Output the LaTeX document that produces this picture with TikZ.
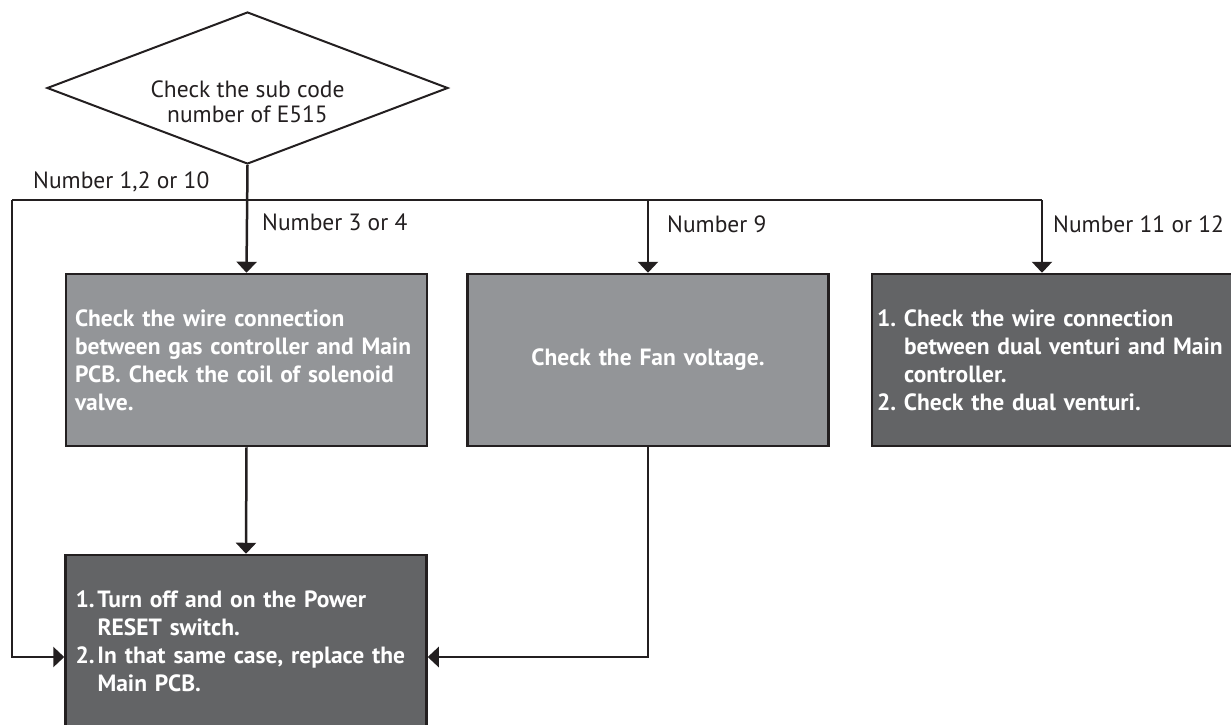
\documentclass[tikz,border=0pt]{standalone}
\usepackage{fontspec}
\setmainfont{PT Sans}
\usepackage{xcolor}
\usetikzlibrary{arrows.meta,positioning,shapes.geometric}
\definecolor{ink}{RGB}{35,31,32}
\definecolor{boxlight}{RGB}{147,149,152}
\definecolor{boxdark}{RGB}{99,100,102}
\newcommand{\num}[2]{\makebox[#1][l]{#2}}

\begin{document}
\begin{tikzpicture}[x=1pt, y=-1pt,
    dia/.style={draw=ink, diamond, line width=2pt, minimum width=401pt, minimum height=152pt, inner sep=0pt},
    lbl/.style={inner sep=0pt, text=ink, font=\fontsize{23.5}{25}\selectfont},
    box/.style={draw=ink, line width=2.5pt, minimum width=361pt, minimum height=172pt, inner sep=0pt, align=left, text=white, font=\fontsize{23.5}{28}\selectfont\bfseries},
    arr/.style={-{Triangle[width=20pt, length=11pt]}, line width=2.5pt, draw=ink},
    wire/.style={line width=2.5pt, draw=ink},
]
    \useasboundingbox (0,0) rectangle (1231,724);

    % Decision
    \node[dia] (dec) at (247.5,88) {};
    \node[lbl, align=center] (dectext) at (247.5,102) {Check the sub code\\number of E515};

    % Branch labels
    \node[lbl, anchor=base west] (n1) at (33,188) {Number 1,2 or 10};
    \node[lbl, anchor=base west] (n34) at (262,230) {Number 3 or 4};
    \node[lbl, anchor=base west] (n9) at (667,232) {Number 9};
    \node[lbl, anchor=base west] (n1112) at (1053,232) {Number 11 or 12};

    % Checks
    \node[box, fill=boxlight, text width=343pt] (chk) at (246.5,360) {Check the wire connection\\between gas controller and Main\\PCB. Check the coil of solenoid\\valve.};
    \node[box, fill=boxlight, text width=343pt, align=center] (fan) at (648,360) {Check the Fan voltage.};
    \node[box, fill=boxdark, text width=351pt] (venturi) at (1052.5,360) {\num{27pt}{1.}Check the wire connection\\\hspace*{27pt}between dual venturi and Main\\\hspace*{27pt}controller.\\\num{27pt}{2.}Check the dual venturi.};

    % Reset
    \node[box, fill=boxdark, text width=341pt] (reset) at (246,641) {\num{22pt}{1.}Turn off and on the Power\\\hspace*{22pt}RESET switch.\\\num{22pt}{2.}In that same case, replace the\\\hspace*{22pt}Main PCB.};

    % Bus
    \coordinate (busL) at (12,200);
    \coordinate (busR) at (1042,200);
    \draw[wire] (busL) -- (busR);

    % Arrows
    \draw[arr] (dec.south) -- (chk.north);
    \draw[arr] (fan.north |- busL) -- (fan.north);
    \draw[arr] (busR) -- (busR |- venturi.north);
    \draw[arr] (busL) |- ([yshift=-16pt]reset.west);
    \draw[arr] (chk.south) -- (reset.north);
    \draw[arr] (fan.south) |- ([yshift=-16pt]reset.east);
\end{tikzpicture}
\end{document}
